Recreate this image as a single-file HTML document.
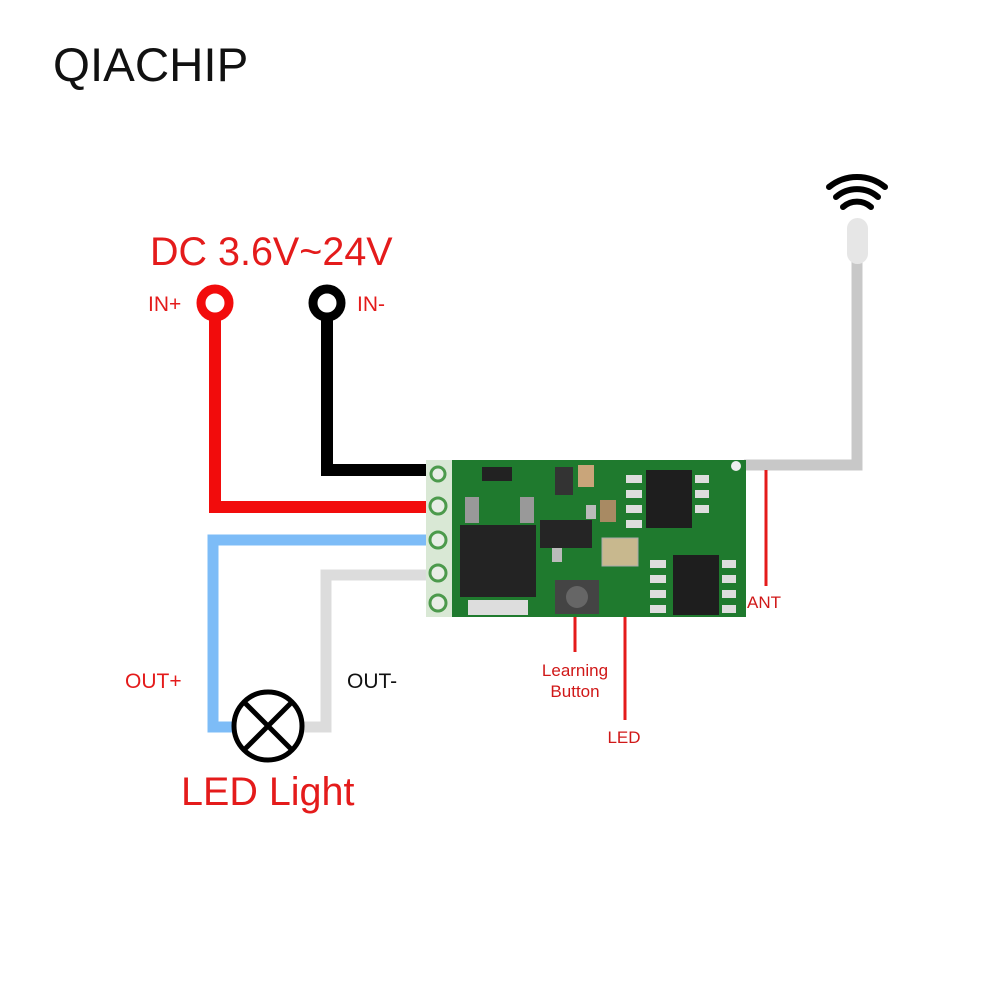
<!DOCTYPE html>
<html><head><style>
body{margin:0;background:#fff;}
svg text{font-family:"Liberation Sans",sans-serif;}
</style></head><body>
<svg width="1000" height="1000" viewBox="0 0 1000 1000" xmlns="http://www.w3.org/2000/svg">
<rect width="1000" height="1000" fill="#fff"/>
<text x="53" y="81" font-size="47.5" fill="#111">QIACHIP</text>
<text x="150" y="265" font-size="39.5" fill="#e41b1b">DC 3.6V~24V</text>
<text x="148" y="311" font-size="21" fill="#e41b1b">IN+</text>
<text x="357" y="311" font-size="21" fill="#e41b1b">IN-</text>
<text x="125" y="688" font-size="21" fill="#e41b1b">OUT+</text>
<text x="347" y="688" font-size="21" fill="#111">OUT-</text>
<text x="181" y="805" font-size="39.5" fill="#e41b1b">LED Light</text>
<text x="575" y="676" font-size="17" fill="#d01818" text-anchor="middle">Learning</text>
<text x="575" y="697" font-size="17" fill="#d01818" text-anchor="middle">Button</text>
<text x="624" y="743" font-size="17" fill="#d01818" text-anchor="middle">LED</text>
<text x="747" y="608" font-size="17" fill="#d01818">ANT</text>
<polyline points="327,310 327,470 430,470" fill="none" stroke="#000" stroke-width="12"/>
<polyline points="215,310 215,507 430,507" fill="none" stroke="#f20c0c" stroke-width="12"/>
<polyline points="430,540 213,540 213,727 240,727" fill="none" stroke="#7dbcf7" stroke-width="11"/>
<polyline points="430,575 326,575 326,727 300,727" fill="none" stroke="#dcdcdc" stroke-width="11"/>
<polyline points="744,465 857,465 857,258" fill="none" stroke="#c8c8c8" stroke-width="11"/>
<rect x="847" y="218" width="21" height="46" rx="10.5" fill="#e6e6e6"/>
<g fill="none" stroke="#000" stroke-width="6" stroke-linecap="round">
<path d="M829,187 A44,44 0 0 1 885,187"/>
<path d="M836,197 A32,32 0 0 1 878,197"/>
<path d="M843,207 A21,21 0 0 1 871,207"/>
</g>
<circle cx="215" cy="303" r="14" fill="#fff" stroke="#f20c0c" stroke-width="9"/>
<circle cx="327" cy="303" r="14" fill="#fff" stroke="#000" stroke-width="9"/>
<circle cx="268" cy="726" r="34" fill="#fff" stroke="#000" stroke-width="5"/>
<line x1="244" y1="702" x2="292" y2="750" stroke="#000" stroke-width="5"/>
<line x1="292" y1="702" x2="244" y2="750" stroke="#000" stroke-width="5"/>
<line x1="766" y1="470" x2="766" y2="586" stroke="#e41b1b" stroke-width="3"/>
<line x1="575" y1="617" x2="575" y2="652" stroke="#e41b1b" stroke-width="3"/>
<line x1="625" y1="617" x2="625" y2="720" stroke="#e41b1b" stroke-width="3"/>
<rect x="426" y="460" width="320" height="157" fill="#1f7a2e"/>
<rect x="426" y="460" width="26" height="157" fill="#d9e8d5"/>
<g fill="#e8eee6" stroke="#4c9a4c" stroke-width="3">
<circle cx="438" cy="474" r="7"/><circle cx="438" cy="506" r="8"/><circle cx="438" cy="540" r="8"/><circle cx="438" cy="573" r="8"/><circle cx="438" cy="603" r="8"/>
</g>
<rect x="460" y="525" width="76" height="72" fill="#232323"/>
<rect x="468" y="600" width="60" height="15" fill="#ddd"/>
<rect x="465" y="497" width="14" height="26" fill="#999"/>
<rect x="520" y="497" width="14" height="26" fill="#999"/>
<rect x="540" y="520" width="52" height="28" fill="#252525"/>
<rect x="552" y="548" width="10" height="14" fill="#bbb"/>
<rect x="586" y="505" width="10" height="14" fill="#bbb"/>
<rect x="602" y="538" width="36" height="28" fill="#c8b88e" stroke="#aaa"/>
<rect x="555" y="580" width="44" height="34" fill="#444"/>
<circle cx="577" cy="597" r="11" fill="#666"/>
<rect x="646" y="470" width="46" height="58" fill="#1e1e1e"/>
<rect x="673" y="555" width="46" height="60" fill="#1e1e1e"/>
<rect x="482" y="467" width="30" height="14" fill="#222"/>
<rect x="555" y="467" width="18" height="28" fill="#333"/>
<rect x="578" y="465" width="16" height="22" fill="#c9a57a"/>
<rect x="600" y="500" width="16" height="22" fill="#a88a63"/>
<g fill="#ddd"><rect x="626" y="475" width="16" height="8"/><rect x="626" y="490" width="16" height="8"/><rect x="626" y="505" width="16" height="8"/><rect x="626" y="520" width="16" height="8"/>
<rect x="650" y="560" width="16" height="8"/><rect x="650" y="575" width="16" height="8"/><rect x="650" y="590" width="16" height="8"/><rect x="650" y="605" width="16" height="8"/>
<rect x="722" y="560" width="14" height="8"/><rect x="722" y="575" width="14" height="8"/><rect x="722" y="590" width="14" height="8"/><rect x="722" y="605" width="14" height="8"/>
<rect x="695" y="475" width="14" height="8"/><rect x="695" y="490" width="14" height="8"/><rect x="695" y="505" width="14" height="8"/></g>
<circle cx="736" cy="466" r="5" fill="#eee"/>
</svg>
</body></html>
